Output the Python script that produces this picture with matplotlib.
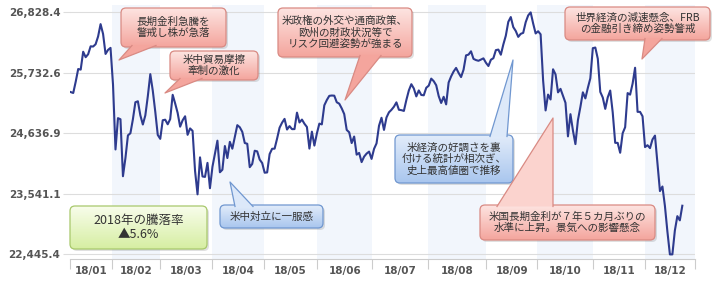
import numpy as np
import matplotlib
matplotlib.use("Agg")
import matplotlib.pyplot as plt
from matplotlib.patches import FancyBboxPatch, Polygon
from matplotlib.colors import LinearSegmentedColormap

plt.rcParams['font.family'] = ['Noto Sans CJK JP', 'DejaVu Sans']

# daily closes, one list per month (chart starts mid-January)
jan = [25385, 25369, 25574, 25803, 25792, 26116, 26017, 26071, 26214, 26210,
       26252, 26392, 26616, 26439, 26076, 26149]
feb = [26186, 25521, 24346, 24913, 24893, 23861, 24191, 24601, 24640, 24893,
       25201, 25219, 24964, 24798, 24963, 25310, 25710, 25410, 25029]
mar = [24609, 24538, 24875, 24885, 24802, 24896, 25336, 25179, 25008, 24759,
       24874, 24947, 24611, 24727, 24683, 23958, 23533, 24203, 23857, 23849, 24103]
apr = [23644, 24033, 24264, 24505, 23933, 23979, 24408, 24190, 24484, 24360,
       24573, 24786, 24748, 24665, 24463, 24449, 24025, 24084, 24323, 24311, 24163]
may = [24100, 23925, 23930, 24263, 24358, 24361, 24543, 24740, 24831, 24900,
       24707, 24769, 24714, 24715, 25013, 24835, 24887, 24812, 24753, 24362,
       24668, 24416]
jun = [24635, 24814, 24800, 25146, 25241, 25317, 25323, 25320, 25201, 25175,
       25090, 24987, 24700, 24657, 24462, 24580, 24252, 24283, 24117, 24216, 24271]
jul = [24307, 24175, 24357, 24456, 24776, 24920, 24700, 24925, 25019, 25064,
       25120, 25199, 25065, 25058, 25044, 25242, 25415, 25528, 25451, 25307, 25415]
aug = [25333, 25327, 25463, 25502, 25629, 25583, 25509, 25313, 25188, 25300,
       25162, 25559, 25669, 25758, 25823, 25733, 25657, 25790, 26050, 26064,
       26124, 25987, 25965]
sep = [25952, 25974, 25996, 25917, 25857, 25971, 25999, 26145, 26155, 26062,
       26247, 26406, 26657, 26744, 26562, 26492, 26385, 26440, 26458]
oct_ = [26651, 26774, 26828.39, 26627, 26447, 26487, 26431, 25599, 25053, 25340,
        25251, 25798, 25706, 25380, 25444, 25317, 25191, 24583, 24985, 24689,
        24443, 24875, 25116]
nov = [25381, 25271, 25462, 25635, 26181, 26192, 25989, 25388, 25287, 25081,
       25290, 25413, 25018, 24466, 24465, 24286, 24640, 24749, 25367, 25339, 25538]
dec = [25826, 25027, 25027, 24947, 24389, 24423, 24370, 24527, 24597, 24101,
       23592, 23675, 23323, 22859, 22445.37, 22445.37, 22878, 23138, 23062, 23327]

month_labels = ["18/01", "18/02", "18/03", "18/04", "18/05", "18/06",
                "18/07", "18/08", "18/09", "18/10", "18/11", "18/12"]

values = np.array(jan + feb + mar + apr + may + jun + jul + aug + sep + oct_ + nov + dec)
idx = np.arange(len(values))

# month band edges on the index axis (as drawn in the original)
month_edges = [-0.3, 16.6, 35.9, 56.8, 77.8, 99.1, 121.3, 143.8, 167.1,
               187.6, 210.1, 231.0, 251.1]

W, H = 720, 284
fig = plt.figure(figsize=(W / 100, H / 100), dpi=100)
ax = fig.add_axes([70 / W, 1 - 259 / H, 625 / W, 254 / H])

vmin, vmax = values.min(), values.max()
rng = vmax - vmin
ax.set_ylim(vmin - rng * 4.6 / 242, vmax + rng * 7.4 / 242)
ax.set_xlim(month_edges[0], month_edges[-1])

for i in range(12):
    if i % 2 == 1:
        ax.axvspan(month_edges[i], month_edges[i + 1], color='#f2f6fc', lw=0, zorder=0)

ax.plot(idx, values, color='#2e3b8e', lw=1.5, zorder=3)

yt = np.linspace(vmin, vmax, 5)
ax.set_yticks(yt)
ax.set_yticklabels([f"{v:,.1f}" for v in yt])
ax.yaxis.grid(True, color='#dddddd', lw=0.8, zorder=1)
ax.tick_params(axis='y', length=5, color='#dddddd', labelcolor='#555555',
               labelsize=7.5, pad=2)

ax.set_xticks(month_edges)
ax.set_xticklabels([])
centers = [(a + b) / 2 for a, b in zip(month_edges[:-1], month_edges[1:])]
ax.set_xticks(centers, minor=True)
ax.set_xticklabels(month_labels, minor=True)
ax.tick_params(axis='x', which='major', length=7, color='#cccccc')
ax.tick_params(axis='x', which='minor', length=0, labelcolor='#555555',
               labelsize=7.5, pad=5)
for lbl in ax.get_yticklabels() + ax.get_xticklabels(minor=True):
    lbl.set_fontfamily('DejaVu Sans')
    lbl.set_fontweight('bold')

for s in ['top', 'right', 'left']:
    ax.spines[s].set_visible(False)
ax.spines['bottom'].set_color('#cccccc')
ax.set_axisbelow(True)

# callouts drawn on a pixel-space overlay
ov = fig.add_axes([0, 0, 1, 1])
ov.axis('off')
ov.set_zorder(5)

red = ('#fde4e1', '#f4a59d', '#d98a83')
blue = ('#e2ecfa', '#a9c6ee', '#7097d0')
green = ('#f8fdeb', '#d6eea2', '#a8c86c')


def bubble(x0, y0, x1, y1, text, scheme, tail=None, size=7.6, tail_col=None):
    top, bottom, edge = scheme
    shadow = FancyBboxPatch((x0 + 2, y0 + 2), x1 - x0, y1 - y0,
                            boxstyle="round,pad=0,rounding_size=5",
                            fc='#000000', alpha=0.12, ec='none', zorder=1)
    ov.add_patch(shadow)
    box = FancyBboxPatch((x0, y0), x1 - x0, y1 - y0,
                         boxstyle="round,pad=0,rounding_size=5",
                         fc='none', ec=edge, lw=0.9, zorder=3)
    ov.add_patch(box)
    cmap = LinearSegmentedColormap.from_list('g', [top, bottom])
    im = ov.imshow(np.linspace(0, 1, 64).reshape(-1, 1), extent=(x0, x1, y1, y0),
                   cmap=cmap, aspect='auto', zorder=2)
    im.set_clip_path(box)
    if tail is not None:
        b1, tip, b2 = tail
        fc = tail_col if tail_col else bottom
        ov.add_patch(Polygon([b1, tip, b2], closed=True, fc=fc, ec='none', zorder=3.5))
        ov.plot([b1[0], tip[0], b2[0]], [b1[1], tip[1], b2[1]], color=edge,
                lw=0.9, zorder=3.6)
    ov.text((x0 + x1) / 2, (y0 + y1) / 2, text, ha='center', va='center',
            fontsize=size, color='#333333', linespacing=1.15, zorder=4)


bubble(121, 8, 226, 47, "長期金利急騰を\n警戒し株が急落", red,
       tail=((132, 45.5), (119, 60), (156, 45.5)))
bubble(170, 51, 258, 80, "米中貿易摩擦\n牽制の激化", red,
       tail=((180, 78.5), (165, 93), (202, 78.5)))
bubble(278, 8, 412, 57, "米政権の外交や通商政策、\n欧州の財政状況等で\nリスク回避姿勢が強まる", red,
       tail=((360, 55.5), (345, 100), (381, 55.5)))
bubble(395, 135, 513, 183, "米経済の好調さを裏\n付ける統計が相次ぎ、\n史上最高値圏で推移", blue,
       tail=((490, 136.5), (513, 60), (507, 136.5)), tail_col='#dde9f9')
bubble(480, 205, 655, 240, "米国長期金利が７年５カ月ぶりの\n水準に上昇。景気への影響懸念", red,
       tail=((497, 206.5), (553, 118), (553, 206.5)), tail_col='#fbd3ce')
bubble(565, 7, 710, 40, "世界経済の減速懸念、FRB\nの金融引き締め姿勢警戒", red,
       tail=((645, 38.5), (642, 59), (662, 38.5)))
bubble(220, 205, 323, 228, "米中対立に一服感", blue,
       tail=((235, 206.5), (230, 182), (253, 206.5)), tail_col='#dce8f9')
bubble(70, 206, 207, 249, "2018年の騰落率\n▲5.6%", green, size=9)

ov.set_xlim(0, W)
ov.set_ylim(H, 0)

fig.savefig("out.png", dpi=100)
